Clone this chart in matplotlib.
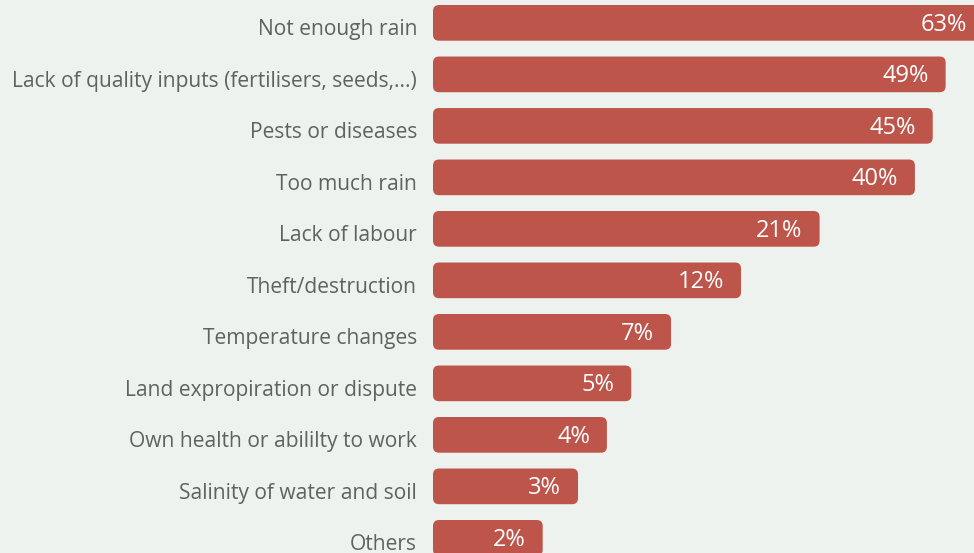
import matplotlib
matplotlib.use("Agg")
import matplotlib.pyplot as plt
import numpy as np
from matplotlib.patches import FancyBboxPatch
from matplotlib.transforms import IdentityTransform, ScaledTranslation

plt.rcParams['font.family'] = ['Open Sans', 'DejaVu Sans']

# challenges reported by farmers (% of respondents)
categories = ["Not enough rain",
              "Lack of quality inputs (fertilisers, seeds,...)",
              "Pests or diseases",
              "Too much rain",
              "Lack of labour",
              "Theft/destruction",
              "Temperature changes",
              "Land expropiration or dispute",
              "Own health or abililty to work",
              "Salinity of water and soil",
              "Others"]
shares = [63, 49, 45, 40, 21, 12, 7, 5, 4, 3, 2]

bg = "#edf2ee"
bar_color = "#bd554b"
label_color = "#5e6260"

fig = plt.figure(figsize=(9.74, 5.53), dpi=100, facecolor=bg)
ax = fig.add_axes([433 / 974, 0, 1 - 433 / 974, 1])
ax.set_facecolor(bg)

# compressed scale so the small shares stay readable
ax.set_xscale('function', functions=(lambda v: np.log(np.asarray(v) + 2.0),
                                     lambda u: np.exp(u) - 2.0))
ax.set_xlim(0, 59)
ax.set_ylim(10.294, -0.444)

y = np.arange(len(categories))
bars = ax.barh(y, shares, height=0.693, left=0, color=bar_color)

# swap the plain rectangles for rounded ones drawn in pixel space
radius = 6
for bar in bars:
    x0, y0 = bar.get_x(), bar.get_y()
    x1, y1 = x0 + bar.get_width(), y0 + bar.get_height()
    (px0, py0), (px1, py1) = ax.transData.transform([[x0, y0], [x1, y1]])
    left, right = min(px0, px1), max(px0, px1)
    bottom, top = min(py0, py1), max(py0, py1)
    rounded = FancyBboxPatch((left + radius, bottom + radius),
                             right - left - 2 * radius, top - bottom - 2 * radius,
                             boxstyle=f"round,pad={radius}",
                             transform=IdentityTransform(),
                             facecolor=bar_color, edgecolor="none")
    ax.add_patch(rounded)
    bar.set_visible(False)

for i, v in enumerate(shares):
    ax.annotate(f"{v}%", xy=(v, i), xytext=(-12.2, -1.5), textcoords='offset points',
                ha='right', va='center', color='white', fontsize=17,
                annotation_clip=False)

ax.set_yticks(y)
ax.set_yticklabels(categories, fontsize=15.1, color=label_color)
ax.tick_params(axis='y', length=0, pad=11.5)
# labels sit a little below the bar centres
shift = ScaledTranslation(0, -3 / 72, fig.dpi_scale_trans)
for lab in ax.get_yticklabels():
    lab.set_transform(lab.get_transform() + shift)
ax.set_xticks([])
ax.xaxis.set_minor_locator(matplotlib.ticker.NullLocator())
for s in ax.spines.values():
    s.set_visible(False)

fig.savefig("out.png", dpi=100, facecolor=bg)
